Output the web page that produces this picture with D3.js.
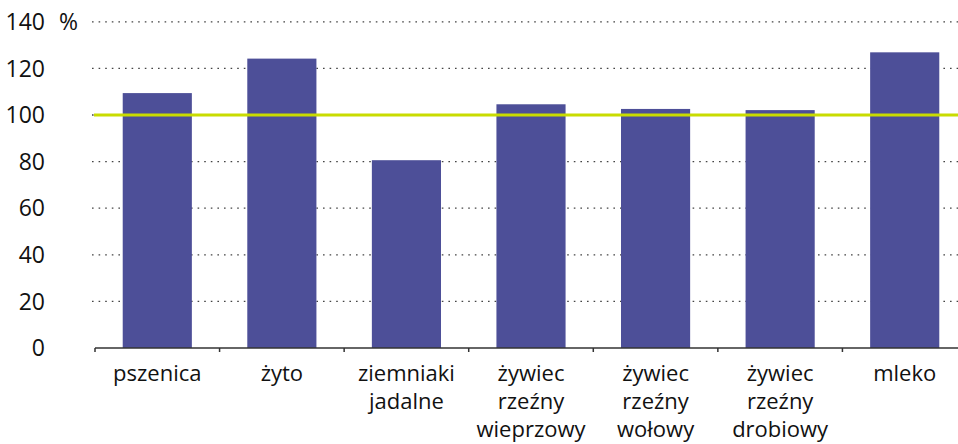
<!DOCTYPE html>
<html>
<head>
<meta charset="utf-8">
<script src="https://cdn.jsdelivr.net/npm/d3@7"></script>
<style>
  body { margin: 0; background: #fff; }
  svg text { font-family: "Open Sans", sans-serif; fill: #111; }
</style>
</head>
<body>
<div id="chart"></div>
<script>
// categories (each entry split into label lines)
var categories = ["pszenica", "żyto", "ziemniaki jadalne", "żywiec rzeźny wieprzowy",
                  "żywiec rzeźny wołowy", "żywiec rzeźny drobiowy", "mleko"];
var labelLines = [["pszenica"], ["żyto"], ["ziemniaki", "jadalne"], ["żywiec", "rzeźny", "wieprzowy"],
                  ["żywiec", "rzeźny", "wołowy"], ["żywiec", "rzeźny", "drobiowy"], ["mleko"]];
var values = [109.4, 124.2, 80.6, 104.6, 102.6, 102.1, 126.9];
var yTicks = [0, 20, 40, 60, 80, 100, 120, 140];
var refValue = 100;

var width = 958, height = 444;

var svg = d3.select("#chart")
  .append("svg")
  .attr("width", width)
  .attr("height", height);

// scales
var x = d3.scaleBand()
  .domain(categories)
  .range([95, 967])
  .paddingInner(0.445)
  .paddingOuter(0.2225);

var y = d3.scaleLinear()
  .domain([0, 140])
  .range([348, 21.8]);

// dotted grid lines
svg.append("g")
  .selectAll("line")
  .data(yTicks.filter(function(d){ return d > 0; }))
  .join("line")
  .attr("x1", 92)
  .attr("x2", width)
  .attr("y1", function(d){ return y(d); })
  .attr("y2", function(d){ return y(d); })
  .style("stroke", "#444")
  .style("stroke-width", 1.3)
  .style("stroke-dasharray", "1.6,5");

// y tick labels
svg.append("g")
  .selectAll("text")
  .data(yTicks)
  .join("text")
  .attr("x", 45)
  .attr("y", function(d){ return y(d); })
  .attr("dy", "0.36em")
  .attr("text-anchor", "end")
  .style("font-size", "23px")
  .text(function(d){ return d; });

svg.append("text")
  .attr("x", 59)
  .attr("y", y(140))
  .attr("dy", "0.36em")
  .style("font-size", "23px")
  .text("%");

// bars
svg.append("g")
  .selectAll("rect")
  .data(values)
  .join("rect")
  .attr("x", function(d, i){ return x(categories[i]); })
  .attr("y", function(d){ return y(d); })
  .attr("width", x.bandwidth())
  .attr("height", function(d){ return y(0) - y(d); })
  .style("fill", "#4d4f98");

// reference line at 100
svg.append("line")
  .attr("x1", 94)
  .attr("x2", width)
  .attr("y1", y(refValue))
  .attr("y2", y(refValue))
  .style("stroke", "#c9dc00")
  .style("stroke-width", 3);

// x axis
var axis = svg.append("g")
  .attr("transform", "translate(0," + y(0) + ")");

axis.append("line")
  .attr("x1", 95)
  .attr("x2", width)
  .style("stroke", "#333")
  .style("stroke-width", 1.5);

var step = x.step();
axis.selectAll(".tick")
  .data(d3.range(categories.length + 1))
  .join("line")
  .attr("class", "tick")
  .attr("x1", function(i){ return x.range()[0] + i * step; })
  .attr("x2", function(i){ return x.range()[0] + i * step; })
  .attr("y1", 0)
  .attr("y2", 4)
  .style("stroke", "#333")
  .style("stroke-width", 1.5);

// category labels
var labels = svg.append("g")
  .selectAll("text")
  .data(categories)
  .join("text")
  .attr("text-anchor", "middle")
  .style("font-size", "22px")
  .attr("transform", function(d){ return "translate(" + (x(d) + x.bandwidth() / 2) + ",381)"; });

labels.selectAll("tspan")
  .data(function(d, i){ return labelLines[i]; })
  .join("tspan")
  .attr("x", 0)
  .attr("y", function(d, j){ return j * 28; })
  .text(function(d){ return d; });
</script>
</body>
</html>
